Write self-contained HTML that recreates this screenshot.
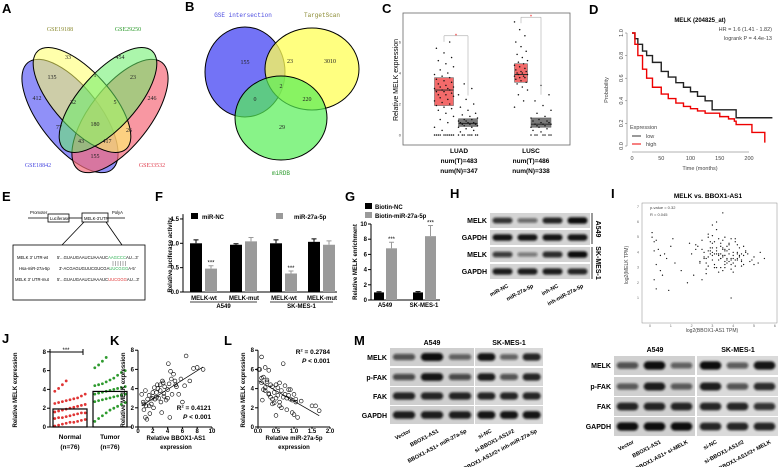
<!DOCTYPE html>
<html><head><meta charset="utf-8"><style>
html,body{margin:0;padding:0;background:#fff;}
svg{display:block;font-family:"Liberation Sans",sans-serif;}
.pl{font-weight:bold;font-size:13px;}
.ax{stroke:#000;stroke-width:1;fill:none;}
</style></head><body>
<svg id="fig" width="778" height="467" viewBox="0 0 778 467">
<defs><filter id="bl" x="-20%" y="-50%" width="140%" height="200%"><feGaussianBlur stdDeviation="1.1"/></filter></defs>
<g>
<ellipse cx="70" cy="116" rx="68" ry="30" transform="rotate(52 70 116)" fill="#6b6bf5" fill-opacity="0.75" stroke="#000"/>
<ellipse cx="120" cy="116" rx="68" ry="30" transform="rotate(-52 120 116)" fill="#f56b7a" fill-opacity="0.7" stroke="#000"/>
<ellipse cx="82" cy="100" rx="66" ry="28" transform="rotate(48 82 100)" fill="#ffff66" fill-opacity="0.55" stroke="#000"/>
<ellipse cx="108" cy="100" rx="66" ry="28" transform="rotate(-48 108 100)" fill="#66ee66" fill-opacity="0.55" stroke="#000"/>
<g font-family="Liberation Serif,serif" font-size="6" text-anchor="middle" fill="#222">
<text x="68" y="59">33</text><text x="120" y="59">454</text><text x="52" y="79">135</text><text x="95" y="77">1</text><text x="133" y="79">23</text>
<text x="37" y="100">412</text><text x="73" y="104">32</text><text x="115" y="104">5</text><text x="152" y="100">246</text>
<text x="59" y="129">77</text><text x="95" y="126">180</text><text x="129" y="132">26</text><text x="81" y="143">43</text><text x="107" y="143">417</text><text x="95" y="158">155</text>
</g>
<text x="60" y="31" font-family="Liberation Serif,serif" font-size="6" fill="#8a8a30" text-anchor="middle">GSE19188</text>
<text x="128" y="31" font-family="Liberation Serif,serif" font-size="6" fill="#2a9a2a" text-anchor="middle">GSE29250</text>
<text x="38" y="167" font-family="Liberation Serif,serif" font-size="6" fill="#4a4ae0" text-anchor="middle">GSE18842</text>
<text x="152" y="167" font-family="Liberation Serif,serif" font-size="6" fill="#e04050" text-anchor="middle">GSE33532</text>
</g>
<text class="pl" x="2" y="13">A</text>
<g>
<ellipse cx="245" cy="72" rx="40" ry="45" fill="#5a5af5" fill-opacity="0.85" stroke="#000"/>
<ellipse cx="312" cy="69" rx="47" ry="41" fill="#ffff55" fill-opacity="0.75" stroke="#000"/>
<ellipse cx="281" cy="118" rx="46" ry="42" fill="#55ee55" fill-opacity="0.7" stroke="#000"/>
<g font-family="Liberation Serif,serif" font-size="6" text-anchor="middle" fill="#222">
<text x="245" y="64">155</text><text x="290" y="63">23</text><text x="330" y="63">3010</text><text x="281" y="88">2</text><text x="255" y="101">0</text><text x="307" y="101">220</text><text x="282" y="129">29</text>
</g>
<text x="243" y="17" font-family="Liberation Mono,monospace" font-size="6" fill="#4a4ae0" text-anchor="middle">GSE intersection</text>
<text x="322" y="17" font-family="Liberation Mono,monospace" font-size="6" fill="#8a8a30" text-anchor="middle">TargetScan</text>
<text x="281" y="175" font-family="Liberation Mono,monospace" font-size="6" fill="#2a9a2a" text-anchor="middle">miRDB</text>
</g>
<text class="pl" x="185" y="11">B</text>
<text class="pl" x="382" y="13">C</text>
<rect x="403" y="13" width="167" height="132" fill="none" stroke="#666" stroke-width="0.8"/>
<text transform="translate(398 80) rotate(-90)" font-size="7" text-anchor="middle">Relative MELK expression</text>
<g font-size="6.5" font-weight="bold" text-anchor="middle">
<text x="459" y="153">LUAD</text><text x="459" y="163">num(T)=483</text><text x="459" y="173">num(N)=347</text>
<text x="531" y="153">LUSC</text><text x="531" y="163">num(T)=486</text><text x="531" y="173">num(N)=338</text>
</g>
<g id="gC"></g>
<text class="pl" x="589" y="14">D</text>
<text x="700" y="22" font-size="6" font-weight="bold" text-anchor="middle">MELK (204825_at)</text>
<text transform="translate(608 90) rotate(-90)" font-size="5.5" fill="#444" text-anchor="middle">Probability</text>
<text x="700" y="170" font-size="5.5" fill="#444" text-anchor="middle">Time (months)</text>
<text x="772" y="31" font-size="5.5" fill="#444" text-anchor="end">HR = 1.6 (1.41 - 1.82)</text>
<text x="772" y="40" font-size="5.5" fill="#444" text-anchor="end">logrank P = 4.4e-13</text>
<g>
<text x="630" y="129" font-size="5.5" fill="#444">Expression</text>
<line x1="632" y1="136" x2="641" y2="136" stroke="#333"/><text x="646" y="138" font-size="5.5" fill="#444">low</text>
<line x1="632" y1="144" x2="641" y2="144" stroke="#e00"/><text x="646" y="146" font-size="5.5" fill="#444">high</text>
</g>
<g id="gD"></g>
<text class="pl" x="2" y="201">E</text>
<g font-size="4.2">
<line x1="28" y1="218" x2="48" y2="218" stroke="#000" stroke-width="0.8"/><text x="30" y="214">Promoter</text>
<rect x="48" y="214" width="21" height="8" fill="#fff" stroke="#000" stroke-width="0.8"/><text x="50" y="220">Luciferase</text>
<line x1="69" y1="218" x2="82" y2="218" stroke="#000" stroke-width="0.8"/>
<rect x="82" y="213" width="26" height="9" fill="#fff" stroke="#000" stroke-width="0.8"/><text x="84" y="220">MELK-3'UTR</text>
<line x1="108" y1="218" x2="125" y2="218" stroke="#000" stroke-width="0.8"/><text x="112" y="214">PolyA</text>
<line x1="84" y1="222" x2="62" y2="245" stroke="#000" stroke-width="0.8"/><line x1="106" y1="222" x2="122" y2="245" stroke="#000" stroke-width="0.8"/>
<rect x="13" y="245" width="132" height="55" fill="#fff" stroke="#000" stroke-width="0.8"/>
<text x="17" y="259">MELK 3' UTR-wt</text><text x="57" y="259">5'...GUAUGAAUCUAAAUC<tspan fill="#2ab050">AAGCCC</tspan>AU...3'</text>
<text x="19" y="270">Hsa-miR-27a-5p</text><text x="59" y="270">3'-ACGAGUGUUCGUCGA<tspan fill="#2ab050">UUCGGG</tspan>A-5'</text>
<text x="15" y="281">MELK 3' UTR-mut</text><text x="57" y="281">5'...GUAUGAAUCUAAAUC<tspan fill="#e03030">UUCGGG</tspan>AU...3'</text>
<path d="M113 261v5M115.5 261v5M118 261v5M120.5 261v5M123 261v5M125.5 261v5" stroke="#333" stroke-width="0.4"/>
</g>
<text class="pl" x="155" y="201">F</text>
<text transform="translate(172 255) rotate(-90)" font-size="6" font-weight="bold" text-anchor="middle">Relative luciferase activity</text>
<g id="gF"></g>
<text class="pl" x="345" y="201">G</text>
<text transform="translate(357 262) rotate(-90)" font-size="6" font-weight="bold" text-anchor="middle">Relative MELK enrichment</text>
<g id="gG"></g>
<text class="pl" x="450" y="198">H</text>
<g id="gH"></g>
<text class="pl" x="611" y="198">I</text>
<text x="708" y="198" font-size="6.5" font-weight="bold" text-anchor="middle">MELK vs. BBOX1-AS1</text>
<text x="712" y="332" font-size="5" fill="#444" text-anchor="middle">log2(BBOX1-AS1 TPM)</text>
<text transform="translate(628 265) rotate(-90)" font-size="5" fill="#444" text-anchor="middle">log2(MELK TPM)</text>
<g id="gI"></g>
<text class="pl" x="2" y="343">J</text>
<text transform="translate(17 390) rotate(-90)" font-size="6" font-weight="bold" text-anchor="middle">Relative MELK expression</text>
<g id="gJ"></g>
<text class="pl" x="110" y="345">K</text>
<text transform="translate(125 390) rotate(-90)" font-size="6" font-weight="bold" text-anchor="middle">Relative MELK expression</text>
<text x="176" y="440" font-size="6" font-weight="bold" text-anchor="middle">Relative BBOX1-AS1</text>
<text x="176" y="449" font-size="6" font-weight="bold" text-anchor="middle">expression</text>
<g id="gK"></g>
<text class="pl" x="224" y="345">L</text>
<text transform="translate(245 390) rotate(-90)" font-size="6" font-weight="bold" text-anchor="middle">Relative MELK expression</text>
<text x="294" y="440" font-size="6" font-weight="bold" text-anchor="middle">Relative miR-27a-5p</text>
<text x="294" y="449" font-size="6" font-weight="bold" text-anchor="middle">expression</text>
<g id="gL"></g>
<text class="pl" x="354" y="345">M</text>
<g id="gM"></g>
</svg>
<script>
const C_groups=['LUAD-T','LUAD-N','LUSC-T','LUSC-N'];
const C_q1=[1.9,0.55,3.4,0.5];
const C_med=[2.9,0.75,3.9,0.7];
const C_q3=[3.7,1.05,4.6,1.1];
const C_dotsT1=[0,0,0,0,0,0,0,0,0,0,0.3,0.5,0.8,1.0,1.2,1.4,1.6,1.7,1.8,1.9,2.0,2.1,2.2,2.3,2.4,2.5,2.6,2.6,2.7,2.8,2.8,2.9,2.9,3.0,3.0,3.1,3.1,3.2,3.3,3.4,3.5,3.6,3.7,3.8,3.9,4.0,4.2,4.4,4.6,4.8,5.0,5.3,5.6,6.0];
const C_dotsN1=[0,0,0,0,0,0,0,0,0.2,0.3,0.4,0.5,0.5,0.6,0.6,0.7,0.7,0.7,0.8,0.8,0.8,0.9,0.9,1.0,1.0,1.1,1.2,1.3,1.4,1.6,1.8,2.0,2.3,2.6,3.0,3.3];
const C_dotsT2=[1.8,2.2,2.6,2.9,3.1,3.3,3.4,3.5,3.6,3.7,3.7,3.8,3.8,3.9,3.9,4.0,4.0,4.1,4.1,4.2,4.3,4.4,4.5,4.6,4.7,4.8,5.0,5.2,5.4,5.7,6.0,6.4,6.8,7.3];
const C_dotsN2=[0,0,0,0,0,0,0,0.2,0.3,0.4,0.5,0.5,0.6,0.6,0.7,0.7,0.7,0.8,0.8,0.9,0.9,1.0,1.1,1.2,1.4,1.6,1.9,2.2,2.6,3.2];
const D_lowT=[0,5,10,18,25,35,50,62,75,88,100,112,125,137,150,165,175,178,200,220,240];
const D_lowP=[1,0.95,0.9,0.84,0.8,0.74,0.66,0.61,0.56,0.52,0.48,0.44,0.4,0.32,0.32,0.32,0.32,0.25,0.25,0.25,0.25];
const D_highT=[0,5,10,18,25,35,50,62,75,88,100,112,125,150,165,175,178,200,205,225,227];
const D_highP=[1,0.9,0.8,0.68,0.6,0.52,0.46,0.42,0.38,0.35,0.33,0.31,0.29,0.26,0.24,0.22,0.19,0.19,0.12,0.12,0.03];
const F_cats=['MELK-wt','MELK-mut','MELK-wt','MELK-mut'];
const F_nc=[1.0,0.97,1.0,1.03];
const F_mir=[0.48,1.04,0.38,0.97];
const F_ncErr=[0.07,0.02,0.07,0.06];
const F_mirErr=[0.06,0.08,0.05,0.08];
const F_ticks=[0,0.5,1.0,1.5];
const G_cats=['A549','SK-MES-1'];
const G_nc=[1.0,1.0];
const G_mir=[6.8,8.4];
const G_ncErr=[0.08,0.1];
const G_mirErr=[0.8,1.4];
const G_ticks=[0,2,4,6,8,10];
const H_rows=['MELK','GAPDH','MELK','GAPDH'];
const H_lanes=['miR-NC','miR-27a-5p','inh-NC','inh-miR-27a-5p'];
const H_int=[[0.75,0.4,0.85,1],[0.95,0.95,0.95,0.95],[0.7,0.3,0.8,1],[0.9,0.9,0.9,0.85]];
const I_x=[0.1,0.2,0.3,0.2,0.5,0.1,0.4,0.6,0.3,0.8,1.0,1.2,1.5,1.1,0.9,2.0,2.2,2.4,2.5,2.6,2.7,2.8,2.9,3.0,3.0,3.1,3.2,3.2,3.3,3.4,3.4,3.5,3.5,3.6,3.7,3.8,3.8,3.9,4.0,4.1,4.2,4.3,4.4,4.5,4.6,4.8,5.0,5.2,2.7,2.9,3.1,3.3,3.5,3.7,3.9,4.1,3.0,3.2,3.4,3.6,2.5,2.8,3.6,4.0,6.3,1.8,3.9,2.2,4.4,3.5];
const I_y=[5.3,4.7,3.2,2.2,3.8,5.0,4.2,2.5,1.6,3.6,4.4,3.3,2.8,4.9,1.5,3.9,4.5,3.4,4.8,4.0,3.6,5.2,4.3,3.8,4.6,3.2,4.1,5.5,3.5,4.4,3.0,4.8,3.7,4.2,3.3,4.6,3.9,3.5,4.0,4.9,3.6,4.3,3.1,3.8,4.1,3.4,3.7,3.3,2.9,4.7,3.0,3.9,2.8,4.4,3.2,3.5,5.8,6.0,3.6,4.1,2.2,5.0,3.0,2.7,3.6,2.0,1.0,4.2,3.9,6.6];
const I_x2=[2.6,2.8,3.0,3.2,3.4,3.6,3.8,4.0,4.2,4.4,2.7,2.9,3.1,3.3,3.5,3.7,3.9,4.1,4.3,4.5,2.5,2.8,3.1,3.4,3.7,4.0,4.3,4.6,4.9,2.3,2.6,2.9,3.2,3.5,3.8,4.1,4.4,4.7,5.0,3.0,3.3,3.6,3.9,4.2,2.4,2.7,3.0,3.3,3.6,3.9,4.2,4.5,1.9,2.1,5.3,5.5,0.3,0.5,0.7,0.2,3.4,3.6,3.8,3.2,3.0,2.8,4.0,4.2,3.5,3.7];
const I_y2=[3.7,4.1,3.5,4.3,3.9,3.2,4.5,3.6,4.0,3.4,3.3,3.9,4.7,3.8,4.2,3.5,4.9,3.1,3.7,4.4,4.2,3.1,3.9,4.6,4.1,3.3,3.8,4.0,3.5,4.4,3.6,4.1,3.0,3.8,4.2,4.7,3.5,3.9,3.2,5.1,2.7,5.0,3.6,4.5,3.3,2.6,4.3,4.9,3.4,2.9,3.9,3.2,4.6,2.5,4.0,3.6,4.8,2.8,3.9,4.1,3.6,3.8,3.4,3.9,4.0,3.7,3.8,3.5,4.3,3.6];
const I_xticks=[0,1,2,3,4,5,6];
const I_yticks=[1,2,3,4,5,6,7];
const J_normal=[0.1,0.2,0.3,0.4,0.5,0.5,0.6,0.7,0.8,0.9,1.0,1.0,1.1,1.2,1.3,1.4,1.5,1.5,1.6,1.7,1.8,1.9,2.0,2.1,2.2,2.3,2.4,2.5,2.6,2.7,2.8,2.9,3.0,3.1,3.3,3.5,3.8,4.1,4.5,4.9];
const J_tumor=[0.6,0.9,1.2,1.5,1.8,2.0,2.2,2.4,2.6,2.7,2.8,2.9,3.0,3.1,3.2,3.3,3.4,3.5,3.5,3.6,3.7,3.8,3.9,4.0,4.1,4.2,4.3,4.4,4.5,4.6,4.8,5.0,5.2,5.5,5.8,6.0,6.3,6.6,7.0,7.4];
const J_ticks=[0,2,4,6,8];
const K_x=[0.5,0.7,0.8,1,1.1,1.2,1.3,1.5,1.6,1.8,2,2.1,2.2,2.3,2.5,2.6,2.8,3,3.1,3.2,3.3,3.5,3.6,3.8,4,4.1,4.2,4.3,4.5,4.6,4.8,5,5.2,5.5,5.8,6,6.5,7,7.5,8,8.8,1,1.5,2,2.5,3,3.5,4,0.8,1.9,2.7,3.4,4.4,5.1,6.3];
const K_y=[3.4,2.6,1.8,3.8,2.2,0.8,2.9,3.3,1.4,2.4,3.6,2.0,4.1,2.9,3.1,4.4,3.0,3.8,2.6,1.5,4.8,3.5,4.2,2.8,3.9,6.6,4.5,1.0,5.0,3.4,5.5,4.8,4.2,3.4,5.0,2.6,7.4,4.8,6.1,6.2,6.0,1.0,2.2,3.2,3.6,4.4,3.2,3.0,2.4,3.0,4.0,4.6,5.8,4.4,4.3];
const K_xticks=[0,2,4,6,8,10];
const L_x=[0.05,0.1,0.1,0.15,0.2,0.2,0.25,0.3,0.3,0.35,0.4,0.4,0.45,0.5,0.5,0.55,0.6,0.6,0.65,0.7,0.7,0.75,0.8,0.8,0.85,0.9,0.9,0.95,1.0,1.0,1.05,1.1,1.2,1.5,1.6,1.7,0.1,0.2,0.3,0.4,0.5,0.6,0.15,0.25,0.35,0.45,0.55,0.65,0.75,0.85,0.95,1.05,0.02,0.12];
const L_y=[6.0,7.3,4.6,5.2,6.2,3.8,4.9,5.9,3.4,4.4,4.2,2.4,3.6,4.4,3.0,3.3,4.6,2.2,3.8,3.1,6.6,4.3,3.0,1.8,3.9,2.9,3.9,1.5,3.4,1.3,2.9,1.0,2.7,2.2,2.2,1.7,5.1,4.1,3.5,2.9,1.2,2.6,3.9,4.7,3.1,2.5,4.1,2.0,3.4,3.3,2.8,2.6,6.0,2.8];
const L_xticks=[0,0.5,1.0,1.5,2.0];
const KL_yticks=[0,2,4,6,8];
const M_rows=['MELK','p-FAK','FAK','GAPDH'];
const M1_lanes=['Vector','BBOX1-AS1','BBOX1-AS1+ miR-27a-5p','si-NC','si-BBOX1-AS1#2','si-BBOX1-AS1#2+ inh-miR-27a-5p'];
const M1_int=[[0.55,1,0.45,0.95,0.45,0.85],[0.6,0.95,0.6,0.9,0.55,0.85],[0.85,0.85,0.85,0.85,0.85,0.85],[0.9,0.9,0.9,0.95,0.95,0.95]];
const M2_lanes=['Vector','BBOX1-AS1','BBOX1-AS1+ si-MELK','si-NC','si-BBOX1-AS1#2','si-BBOX1-AS1#2+ MELK'];
const M2_int=[[0.55,1,0.45,1,0.5,0.95],[0.5,0.9,0.5,0.9,0.55,0.8],[0.85,0.85,0.85,0.85,0.85,0.75],[1,1,1,0.85,0.85,0.85]];

const NS='http://www.w3.org/2000/svg';
function el(tag,attrs,parent){const e=document.createElementNS(NS,tag);for(const k in attrs)e.setAttribute(k,attrs[k]);parent.appendChild(e);return e;}
function tx(parent,x,y,s,attrs){const t=el('text',Object.assign({x:x,y:y},attrs||{}),parent);t.textContent=s;return t;}
const $=id=>document.getElementById(id);

(function(){
const g=$('gC');const y=v=>135-v*15.5;
[0,2,4,6].forEach(v=>{const t=tx(g,401,y(v)+1.5,String(v),{'font-size':4,'text-anchor':'end',fill:'#444'});

});
const cx=[444,468,521,541],w=[19,19,13,20];
const dots=[C_dotsT1,C_dotsN1,C_dotsT2,C_dotsN2];
C_groups.forEach((nm,i)=>{
 const tumor=i%2===0;
 const r=el('rect',{x:cx[i]-w[i]/2,y:y(C_q3[i]),width:w[i],height:y(C_q1[i])-y(C_q3[i]),fill:tumor?'#f25a5a':'#6a6a6a','fill-opacity':0.9,stroke:'#555','stroke-width':0.5},g);
 
 
 const m=el('line',{x1:cx[i]-w[i]/2,x2:cx[i]+w[i]/2,y1:y(C_med[i]),y2:y(C_med[i]),stroke:'#222','stroke-width':0.9},g);
 
 
 dots[i].forEach((v,j)=>{
  const ox=((j*7)%11-5)/5*(w[i]/2);
  const d=el('circle',{cx:cx[i]+ox,cy:y(v),r:0.75,fill:'#111'},g);
  
  
 });
});
[[0,1,6.4],[2,3,7.6]].forEach(b=>{
 const yy=y(b[2]);
 const p=el('path',{d:`M${cx[b[0]]} ${yy+6}V${yy}H${cx[b[1]]}V${y(C_q3[b[1]]+1.5)}`,stroke:'#999','stroke-width':0.5,fill:'none'},g);
 
 
 const s=tx(g,(cx[b[0]]+cx[b[1]])/2,yy+1.5,'*',{'font-size':5,fill:'#e00','text-anchor':'middle'});
 
 
});
})();

(function(){
const g=$('gD');const x=t=>632+t*0.585,y=p=>146-p*113;
const ax=el('path',{d:`M627 ${y(0)}V${y(1)}M${x(0)} 152H${x(200)}`,stroke:'#666','stroke-width':0.5,fill:'none'},g);


[0,0.2,0.4,0.6,0.8,1.0].forEach(v=>{
 const t=tx(g,0,0,v.toFixed(1),{'font-size':5.5,fill:'#444','text-anchor':'middle',transform:`translate(623 ${y(v)}) rotate(-90)`});
 
 
 const k=el('line',{x1:625,x2:627,y1:y(v),y2:y(v),stroke:'#666','stroke-width':0.5},g);
 
 
});
[0,50,100,150,200].forEach(v=>{
 const t=tx(g,x(v),160,String(v),{'font-size':5.5,fill:'#444','text-anchor':'middle'});
 
 
});
function step(T,P){let d=`M${x(T[0])} ${y(P[0])}`;for(let i=1;i<T.length;i++){d+=`H${x(T[i])}V${y(P[i])}`;}return d;}
const lo=el('path',{d:step(D_lowT,D_lowP),stroke:'#222','stroke-width':1.4,fill:'none'},g);


const hi=el('path',{d:step(D_highT,D_highP),stroke:'#e00','stroke-width':1.4,fill:'none'},g);


})();

(function(){
const g=$('gF');const y=v=>292-v*48.7;const bx=[190,230,270,308],bw=12;
const ax=el('path',{d:`M183 ${y(1.6)}V292H337`,class:'ax'},g);


F_ticks.forEach(v=>{
 const t=tx(g,179,y(v)+2,v.toFixed(1),{'font-size':6,'font-weight':'bold','text-anchor':'end'});
 
 
 const k=el('line',{x1:180,x2:183,y1:y(v),y2:y(v),stroke:'#000'},g);
 
 
});
F_cats.forEach((c,i)=>{
 [[F_nc,F_ncErr,'#000',0,'nc'],[F_mir,F_mirErr,'#9a9a9a',15,'mir']].forEach(s=>{
  const v=s[0][i],e=s[1][i],x0=bx[i]+s[3];
  const r=el('rect',{x:x0,y:y(v),width:bw,height:292-y(v),fill:s[2]},g);
  
  
  const eb=el('path',{d:`M${x0+bw/2} ${y(v)}V${y(v+e)}M${x0+bw/2-2.5} ${y(v+e)}H${x0+bw/2+2.5}`,stroke:s[2],'stroke-width':1,fill:'none'},g);
  
  
  if(s[4]==='mir'&&v<0.7){const st=tx(g,x0+bw/2,y(v+e)-1,'***',{'font-size':6,'text-anchor':'middle'});
   
   }
 });
 const l=tx(g,bx[i]+14,300,c,{'font-size':6,'font-weight':'bold','text-anchor':'middle'});
 
 
});
[['A549',190,257],['SK-MES-1',270,333]].forEach(a=>{
 const ln=el('line',{x1:a[1],x2:a[2],y1:302,y2:302,stroke:'#000','stroke-width':0.7},g);
 
 
 const t=tx(g,(a[1]+a[2])/2,308,a[0],{'font-size':6,'font-weight':'bold','text-anchor':'middle'});
 
 
});
const l1=el('rect',{x:191,y:213,width:7,height:6,fill:'#000'},g);


tx(g,202,219,'miR-NC',{'font-size':6,'font-weight':'bold'});
const l2=el('rect',{x:276,y:213,width:7,height:6,fill:'#9a9a9a'},g);


tx(g,294,219,'miR-27a-5p',{'font-size':6,'font-weight':'bold'});
})();

(function(){
const g=$('gG');const y=v=>300-v*7.6;const bx=[374,413];
const ax=el('path',{d:`M371 ${y(10)}V300H440`,class:'ax'},g);


G_ticks.forEach(v=>{
 const t=tx(g,367,y(v)+2,String(v),{'font-size':6,'font-weight':'bold','text-anchor':'end'});
 
 
 const k=el('line',{x1:368,x2:371,y1:y(v),y2:y(v),stroke:'#000'},g);
 
 
});
G_cats.forEach((c,i)=>{
 [[G_nc,G_ncErr,'#000',0,10,'nc'],[G_mir,G_mirErr,'#9a9a9a',12,11,'mir']].forEach(s=>{
  const v=s[0][i],e=s[1][i],x0=bx[i]+s[3],w=s[4];
  const r=el('rect',{x:x0,y:y(v),width:w,height:300-y(v),fill:s[2]},g);
  
  
  const eb=el('path',{d:`M${x0+w/2} ${y(v)}V${y(v+e)}M${x0+w/2-2.5} ${y(v+e)}H${x0+w/2+2.5}`,stroke:s[2],fill:'none'},g);
  
  
  if(s[5]==='mir'){const st=tx(g,x0+w/2,y(v+e)-1,'***',{'font-size':6,'text-anchor':'middle'});
   
   }
 });
 const l=tx(g,bx[i]+11,307,c,{'font-size':6,'font-weight':'bold','text-anchor':'middle'});
 
 
});
const a=el('rect',{x:365,y:203,width:7,height:6,fill:'#000'},g);


tx(g,375,209,'Biotin-NC',{'font-size':6,'font-weight':'bold'});
const b=el('rect',{x:365,y:212,width:7,height:6,fill:'#9a9a9a'},g);


tx(g,375,218,'Biotin-miR-27a-5p',{'font-size':6,'font-weight':'bold'});
})();

function blotRows(g,x0,w,rowY,rowH,ints,bg,name){
 rowY.forEach((ry,r)=>{
  const bgR=el('rect',{x:x0,y:ry,width:w,height:rowH,fill:bg},g);
  
  
  const n=ints[r].length,lw=w/n;
  ints[r].forEach((v,i)=>{
   const bh=rowH*0.22+rowH*0.22*v;
   const band=el('rect',{x:x0+i*lw+lw*0.1,y:ry+rowH/2-bh/2,width:lw*0.8,height:bh,rx:bh/2,fill:'#111','fill-opacity':0.25+0.75*v,filter:'url(#bl)'},g);
   
   
  });
 });
}
function laneLabels(g,x0,w,n,labels,y,name){
 const lw=w/n;
 labels.forEach((s,i)=>{
  const t=tx(g,0,0,s,{'font-size':5.5,'font-weight':'bold','text-anchor':'end',transform:`translate(${x0+i*lw+lw*0.75} ${y}) rotate(-28)`});
  
  
 });
}

(function(){
const g=$('gH');const rows=[213,230,247,264];
blotRows(g,490,100,rows,15,H_int,'#d4d4d4','h-blot');
H_rows.forEach((s,i)=>{const t=tx(g,487,rows[i]+10,s,{'font-size':7,'font-weight':'bold','text-anchor':'end'});
 
 });
el('line',{x1:592,x2:592,y1:213,y2:244,stroke:'#000','stroke-width':0.8},g);
el('line',{x1:592,x2:592,y1:247,y2:279,stroke:'#000','stroke-width':0.8},g);
tx(g,0,0,'A549',{'font-size':7,'font-weight':'bold','text-anchor':'middle',transform:'translate(596 229) rotate(90)'});
tx(g,0,0,'SK-MES-1',{'font-size':7,'font-weight':'bold','text-anchor':'middle',transform:'translate(596 263) rotate(90)'});
laneLabels(g,490,100,4,H_lanes,287,'h');
})();

(function(){
const g=$('gI');const x=v=>650+v*20.8,y=v=>298-(v-1)*15.2;
const fr=el('rect',{x:642,y:203,width:135,height:120,fill:'none',stroke:'#888','stroke-width':0.5},g);


I_xticks.forEach(v=>{const t=tx(g,x(v),327,String(v),{'font-size':3.5,'text-anchor':'middle',fill:'#666'});
 
 });
I_yticks.forEach(v=>{const t=tx(g,639,y(v)+1,String(v),{'font-size':3.5,'text-anchor':'end',fill:'#666'});
 
 });
[[I_x,I_y],[I_x2,I_y2]].forEach(s=>{
 const n=Math.min(s[0].length,s[1].length);
 for(let i=0;i<n;i++){const c=el('circle',{cx:x(s[0][i]),cy:y(s[1][i]),r:0.65,fill:'#111'},g);
  
  }
});
tx(g,650,209,'p-value = 0.32',{'font-size':4,fill:'#444'});
tx(g,650,216,'R = 0.045',{'font-size':4,fill:'#444'});
})();

(function(){
const g=$('gJ');const y=v=>427-v*9.4;
const ax=el('path',{d:`M50 ${y(8)}V427H132`,class:'ax'},g);


J_ticks.forEach(v=>{const t=tx(g,46,y(v)+2,String(v),{'font-size':6,'font-weight':'bold','text-anchor':'end'});
 
 
 el('line',{x1:47,x2:50,y1:y(v),y2:y(v),stroke:'#000'},g);});
const mean=a=>a.reduce((s,v)=>s+v,0)/a.length;
[[J_normal,70,'#e03535','normal','Normal'],[J_tumor,110,'#2e9a2e','tumor','Tumor']].forEach(s=>{
 const m=mean(s[0]);
 s[0].forEach((v,i)=>{const d=el('circle',{cx:s[1]+((i%9)-4)*3.8,cy:y(v),r:1.4,fill:s[2]},g);
  
  });
 const b=el('rect',{x:s[1]-17,y:y(m),width:34,height:427-y(m),fill:'none',stroke:'#000','stroke-width':1.2},g);
 
 
 tx(g,s[1],439,s[4],{'font-size':6.5,'font-weight':'bold','text-anchor':'middle'});
 tx(g,s[1],449,'(n=76)',{'font-size':6.5,'font-weight':'bold','text-anchor':'middle'});
});
const br=el('path',{d:`M50 349V355M50 352H83M83 349V355`,stroke:'#000',fill:'none'},g);


tx(g,66,352,'***',{'font-size':6,'text-anchor':'middle'});
})();

function scatter(gid,X,Y,xs,xticks,x0,name,r2lab,lx){
 const g=$(gid);const y=v=>427-v*9.6;
 const ax=el('path',{d:`M${x0} ${y(8)}V427H${xs(xticks[xticks.length-1])}`,class:'ax'},g);
 
 
 KL_yticks.forEach(v=>{const t=tx(g,x0-4,y(v)+2,String(v),{'font-size':6,'font-weight':'bold','text-anchor':'end'});
  
  
  el('line',{x1:x0-3,x2:x0,y1:y(v),y2:y(v),stroke:'#000'},g);});
 xticks.forEach(v=>{const t=tx(g,xs(v),433,(xticks.some(q=>q%1))?v.toFixed(1):String(v),{'font-size':6,'font-weight':'bold','text-anchor':'middle'});
  
  
  el('line',{x1:xs(v),x2:xs(v),y1:427,y2:429,stroke:'#000'},g);});
 const n=Math.min(X.length,Y.length);let sx=0,sy=0,sxx=0,sxy=0,mn=1e9,mx=-1e9;
 for(let i=0;i<n;i++){
  const c=el('circle',{cx:xs(X[i]),cy:y(Y[i]),r:1.9,fill:'none',stroke:'#000','stroke-width':0.6},g);
  
  
  sx+=X[i];sy+=Y[i];sxx+=X[i]*X[i];sxy+=X[i]*Y[i];mn=Math.min(mn,X[i]);mx=Math.max(mx,X[i]);}
 const b=(n*sxy-sx*sy)/(n*sxx-sx*sx),a=(sy-b*sx)/n;
 const fl=el('line',{x1:xs(mn),y1:y(a+b*mn),x2:xs(mx),y2:y(a+b*mx),stroke:'#000','stroke-width':0.7},g);
 
 
 const t1=tx(g,lx,r2lab[1],'',{'font-size':6.5,'font-weight':'bold','text-anchor':'end'});
 t1.innerHTML='R<tspan dy="-2.5" font-size="4">2</tspan><tspan dy="2.5"> = '+r2lab[0]+'</tspan>';
 
 
 const t2=tx(g,lx,r2lab[1]+9,'',{'font-size':6.5,'font-weight':'bold','text-anchor':'end'});
 t2.innerHTML='<tspan font-style="italic">P</tspan> &lt; 0.001';
 
 
}
scatter('gK',K_x,K_y,v=>138+v*7.4,K_xticks,138,'k',['0.4121',410],211);
scatter('gL',L_x,L_y,v=>258+v*36,L_xticks,258,'l',['0.2784',354],330);

(function(){
const g=$('gM');
const r1=[348,368,387,406];
blotRows(g,390,84,r1,18,M1_int.map(r=>r.slice(0,3)),'#cfcfcf','m-left-a549');
blotRows(g,475,68,r1,18,M1_int.map(r=>r.slice(3)),'#d8d8d8','m-left-skmes1');
M_rows.forEach((s,i)=>{const t=tx(g,387,r1[i]+12,s,{'font-size':7,'font-weight':'bold','text-anchor':'end'});
 
 });
tx(g,432,345,'A549',{'font-size':7,'font-weight':'bold','text-anchor':'middle'});
tx(g,509,345,'SK-MES-1',{'font-size':7,'font-weight':'bold','text-anchor':'middle'});
laneLabels(g,390,84,3,M1_lanes.slice(0,3),432,'m-left');
laneLabels(g,475,68,3,M1_lanes.slice(3),432,'m-left');
const r2=[356,377,397,417];
blotRows(g,614,81,r2,19,M2_int.map(r=>r.slice(0,3)),'#d0d0d0','m-right-a549');
blotRows(g,697,81,r2,19,M2_int.map(r=>r.slice(3)),'#dadada','m-right-skmes1');
M_rows.forEach((s,i)=>{const t=tx(g,611,r2[i]+12,s,{'font-size':7,'font-weight':'bold','text-anchor':'end'});
 
 });
tx(g,655,352,'A549',{'font-size':7,'font-weight':'bold','text-anchor':'middle'});
tx(g,738,352,'SK-MES-1',{'font-size':7,'font-weight':'bold','text-anchor':'middle'});
laneLabels(g,614,81,3,M2_lanes.slice(0,3),443,'m-right');
laneLabels(g,697,81,3,M2_lanes.slice(3),443,'m-right');
})();
</script>
</body></html>
